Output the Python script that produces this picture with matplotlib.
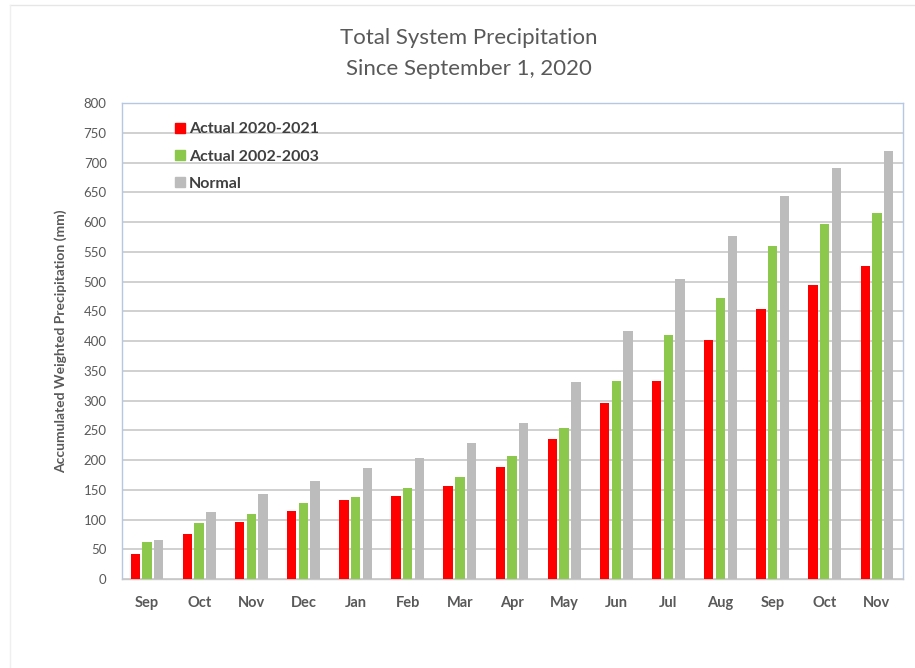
import numpy as np
import matplotlib.pyplot as plt
from matplotlib.lines import Line2D
from matplotlib.patches import Rectangle

plt.rcParams['font.family'] = ['Lato', 'DejaVu Sans']

months = ['Sep', 'Oct', 'Nov', 'Dec', 'Jan', 'Feb', 'Mar', 'Apr',
          'May', 'Jun', 'Jul', 'Aug', 'Sep', 'Oct', 'Nov']
actual_2020 = [42, 76, 95, 114, 132, 140, 156, 189, 235, 295, 332, 402, 453, 494, 526]
actual_2002 = [62, 94, 109, 128, 138, 153, 171, 207, 254, 332, 410, 473, 560, 596, 615]
normal = [66, 113, 143, 165, 187, 204, 228, 262, 331, 417, 505, 577, 643, 690, 719]

text_color = '#595959'
grid_color = '#c8c8c8'
colors = ['#ff0000', '#8cc84b', '#bcbcbc']
labels = ['Actual 2020-2021', 'Actual 2002-2003', 'Normal']

fig = plt.figure(figsize=(9.15, 6.68), dpi=100)
ax = fig.add_axes([0.1333, 0.1332, 0.8536, 0.7126])

x = np.arange(len(months))
w = 0.18
step = 0.225
for off, vals, c, lab in zip([-step, 0, step], [actual_2020, actual_2002, normal], colors, labels):
    ax.bar(x + off, vals, w, color=c, label=lab, zorder=3)

ax.set_xlim(-0.48, len(months) - 0.5)
ax.set_ylim(0, 800)
ax.set_yticks(range(0, 801, 50))
ax.set_xticks(x)
ax.set_xticklabels(months, fontsize=10.5, fontweight='bold', color=text_color)
ax.tick_params(axis='y', labelsize=9.5, labelcolor=text_color, length=0, pad=11)
ax.tick_params(axis='x', length=0, pad=12)
ax.grid(axis='y', color=grid_color, linewidth=1.2, zorder=0)
for side in ax.spines.values():
    side.set_color('#b4c8e4')
    side.set_linewidth(1)
ax.spines['bottom'].set_color(grid_color)

ax.set_ylabel('Accumulated Weighted Precipitation (mm)', fontsize=10,
              fontweight='bold', color=text_color, labelpad=12)

fig.text(0.512, 0.943, 'Total System Precipitation', ha='center', va='center',
         fontsize=16, color=text_color)
fig.text(0.512, 0.897, 'Since September 1, 2020', ha='center', va='center',
         fontsize=16, color=text_color)

# white block behind the legend hides the grid there
ax.add_patch(Rectangle((0.007, 0.79), 0.298, 0.2, transform=ax.transAxes,
                       facecolor='white', edgecolor='none', zorder=1))
handles = [Line2D([], [], marker='s', linestyle='none', markersize=7.5, color=c)
           for c in colors]
leg = ax.legend(handles, labels, loc='upper left', bbox_to_anchor=(0.05, 0.983),
                frameon=False, prop={'weight': 'bold', 'size': 11.5},
                labelcolor='#404040', handletextpad=0.05, labelspacing=0.82,
                handlelength=1.0, borderaxespad=0.3)
leg.set_zorder(5)

# faint outer frame
fig.add_artist(Line2D([0.011, 1.0], [0.993, 0.993], transform=fig.transFigure,
                      color='#e6e6e6', linewidth=1))
fig.add_artist(Line2D([0.011, 0.011], [0.0, 0.993], transform=fig.transFigure,
                      color='#efefef', linewidth=1))

fig.savefig('out.png', dpi=100)
